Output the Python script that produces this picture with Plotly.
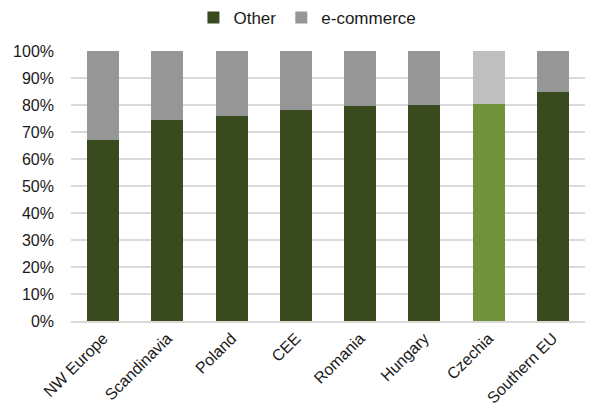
import plotly.graph_objects as go

# Share of sales by channel, per region (percent)
regions = ["NW Europe", "Scandinavia", "Poland", "CEE", "Romania",
           "Hungary", "Czechia", "Southern EU"]
other = [67, 74.5, 76, 78, 79.5, 80, 80.5, 85]
ecommerce = [100 - v for v in other]

# Czechia is highlighted in a lighter palette
highlight = "Czechia"
other_colors = ["#71923a" if r == highlight else "#3a4a1f" for r in regions]
ecom_colors = ["#bfbfbf" if r == highlight else "#969696" for r in regions]

fig = go.Figure()
fig.add_trace(go.Bar(
    name="Other", x=regions, y=other,
    marker=dict(color=other_colors, line=dict(width=0)),
))
fig.add_trace(go.Bar(
    name="e-commerce", x=regions, y=ecommerce,
    marker=dict(color=ecom_colors, line=dict(width=0)),
))

fig.update_layout(
    barmode="stack",
    bargap=0.5,
    width=590, height=416,
    margin=dict(l=71, r=5, t=51, b=95, autoexpand=False),
    paper_bgcolor="white",
    plot_bgcolor="white",
    font=dict(family="Liberation Sans, Arial, sans-serif", size=16, color="#1a1a1a"),
    legend=dict(
        orientation="h", x=0.46, xanchor="center", y=1.122, yanchor="middle",
        font=dict(size=17), itemwidth=30, traceorder="normal",
        bgcolor="rgba(0,0,0,0)", tracegroupgap=0,
    ),
    yaxis=dict(
        range=[0, 100], dtick=10, ticksuffix="%",
        showgrid=True, gridcolor="#d9d9d9", gridwidth=1.5,
        zeroline=False, showline=False,
        ticklabelstandoff=16,
        tickfont=dict(size=16),
    ),
    xaxis=dict(
        tickangle=-45, showline=True, linecolor="#d9d9d9", linewidth=1.5,
        showgrid=False, tickfont=dict(size=16),
    ),
)

fig.write_html("out.html")
